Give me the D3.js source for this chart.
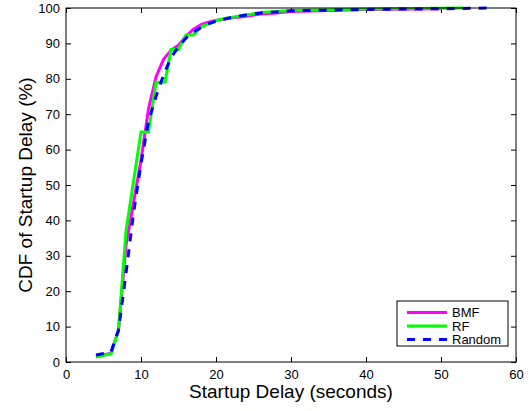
<!DOCTYPE html>
<html>
<head>
<meta charset="utf-8">
<script src="https://cdn.jsdelivr.net/npm/d3@7"></script>
<style>
body{margin:0;background:#fff;}
text{font-family:"Liberation Sans",Arial,sans-serif;}
</style>
</head>
<body>
<svg id="chart" width="529" height="411"></svg>
<script>
// Data (startup delay in seconds, CDF in %)
const bmfX = [4, 6, 7, 8, 9, 10, 11, 12, 13, 14, 15, 16, 17, 18, 19, 20, 22, 24, 26, 28, 30, 35, 40, 50];
const bmfY = [1.5, 2.5, 9, 33, 45, 57, 71.5, 80.5, 85.5, 88, 89.5, 92, 94, 95.3, 96, 96.5, 97.2, 97.7, 98.3, 98.6, 99, 99.3, 99.6, 99.8];
const rfX = [4, 6, 7, 8, 9, 10, 11, 12, 13.2, 14, 15, 16, 17, 18, 19, 20, 21, 22, 24, 26, 28, 30, 35, 40, 53];
const rfY = [1.5, 2.3, 9, 37, 51, 65, 65, 79, 79, 88.3, 88.3, 92.4, 92.4, 94.7, 95.5, 96.4, 97, 97.3, 98, 98.7, 99, 99.3, 99.5, 99.7, 100];
const rndX = [4, 6, 7, 8, 9, 10, 11, 12, 13, 14, 15, 16, 17, 18, 19, 20, 22, 24, 26, 28, 30, 35, 40, 50, 56.5];
const rndY = [2, 2.8, 9, 25, 42, 56, 68, 75, 81, 86, 89, 91.5, 93.2, 94.5, 95.5, 96.3, 97.3, 98, 98.6, 98.9, 99.2, 99.4, 99.6, 99.8, 100];
const xTicks = [0, 10, 20, 30, 40, 50, 60];
const yTicks = [0, 10, 20, 30, 40, 50, 60, 70, 80, 90, 100];
const seriesNames = ["BMF", "RF", "Random"];

const svg = d3.select("#chart");
const L = 66, R = 516, T = 8, B = 362;
const x = d3.scaleLinear().domain([0, 60]).range([L, R]);
const y = d3.scaleLinear().domain([0, 100]).range([B, T]);

const series = [
  {name: seriesNames[0], xs: bmfX, ys: bmfY, color: "#ff00ff", dash: null},
  {name: seriesNames[1], xs: rfX, ys: rfY, color: "#00ff00", dash: null},
  {name: seriesNames[2], xs: rndX, ys: rndY, color: "#0000ff", dash: "8,8"}
];

// axes with inward ticks
const axB = d3.axisBottom(x).tickValues(xTicks).tickSizeInner(-5).tickSizeOuter(0).tickPadding(8);
const axL = d3.axisLeft(y).tickValues(yTicks).tickSizeInner(-5).tickSizeOuter(0).tickPadding(6);
const axT = d3.axisTop(x).tickValues(xTicks).tickSizeInner(-5).tickSizeOuter(0).tickFormat("");
const axR = d3.axisRight(y).tickValues(yTicks).tickSizeInner(-5).tickSizeOuter(0).tickFormat("");

function style(g){
  g.select(".domain").remove();
  g.selectAll(".tick line").attr("stroke", "#000");
  g.selectAll("text").attr("font-size", 13).attr("fill", "#000").attr("font-family", "Liberation Sans, Arial, sans-serif");
}
svg.append("g").attr("transform", `translate(0,${B})`).call(axB).call(style);
svg.append("g").attr("transform", `translate(${L},0)`).call(axL).call(style);
svg.append("g").attr("transform", `translate(0,${T})`).call(axT).call(style);
svg.append("g").attr("transform", `translate(${R},0)`).call(axR).call(style);

// lines
const line = d3.line().x(d => x(d[0])).y(d => y(d[1]));
series.forEach(s => {
  const pts = s.xs.map((v, i) => [v, s.ys[i]]);
  svg.append("path").datum(pts)
    .attr("d", line)
    .attr("fill", "none")
    .attr("stroke", s.color)
    .attr("stroke-width", 3)
    .attr("stroke-linejoin", "miter")
    .attr("stroke-dasharray", s.dash);
});

// box
svg.append("rect").attr("x", L).attr("y", T).attr("width", R - L).attr("height", B - T)
  .attr("fill", "none").attr("stroke", "#000").attr("stroke-width", 1);

// axis labels
svg.append("text").attr("x", (L + R) / 2).attr("y", 398).attr("text-anchor", "middle")
  .attr("font-size", 19).text("Startup Delay (seconds)");
svg.append("text").attr("transform", `translate(32,${(T + B) / 2}) rotate(-90)`)
  .attr("text-anchor", "middle").attr("font-size", 19).text("CDF of Startup Delay (%)");

// legend
const lg = svg.append("g");
lg.append("rect").attr("x", 397).attr("y", 301).attr("width", 111).attr("height", 45)
  .attr("fill", "#fff").attr("stroke", "#000").attr("stroke-width", 1);
series.forEach((s, i) => {
  const yy = 312.5 + i * 13.5;
  lg.append("line").attr("x1", 407).attr("x2", 447).attr("y1", yy).attr("y2", yy)
    .attr("stroke", s.color).attr("stroke-width", 3).attr("stroke-dasharray", s.dash);
  lg.append("text").attr("x", 452).attr("y", yy + 4.5).attr("font-size", 13).text(s.name);
});
</script>
</body>
</html>
